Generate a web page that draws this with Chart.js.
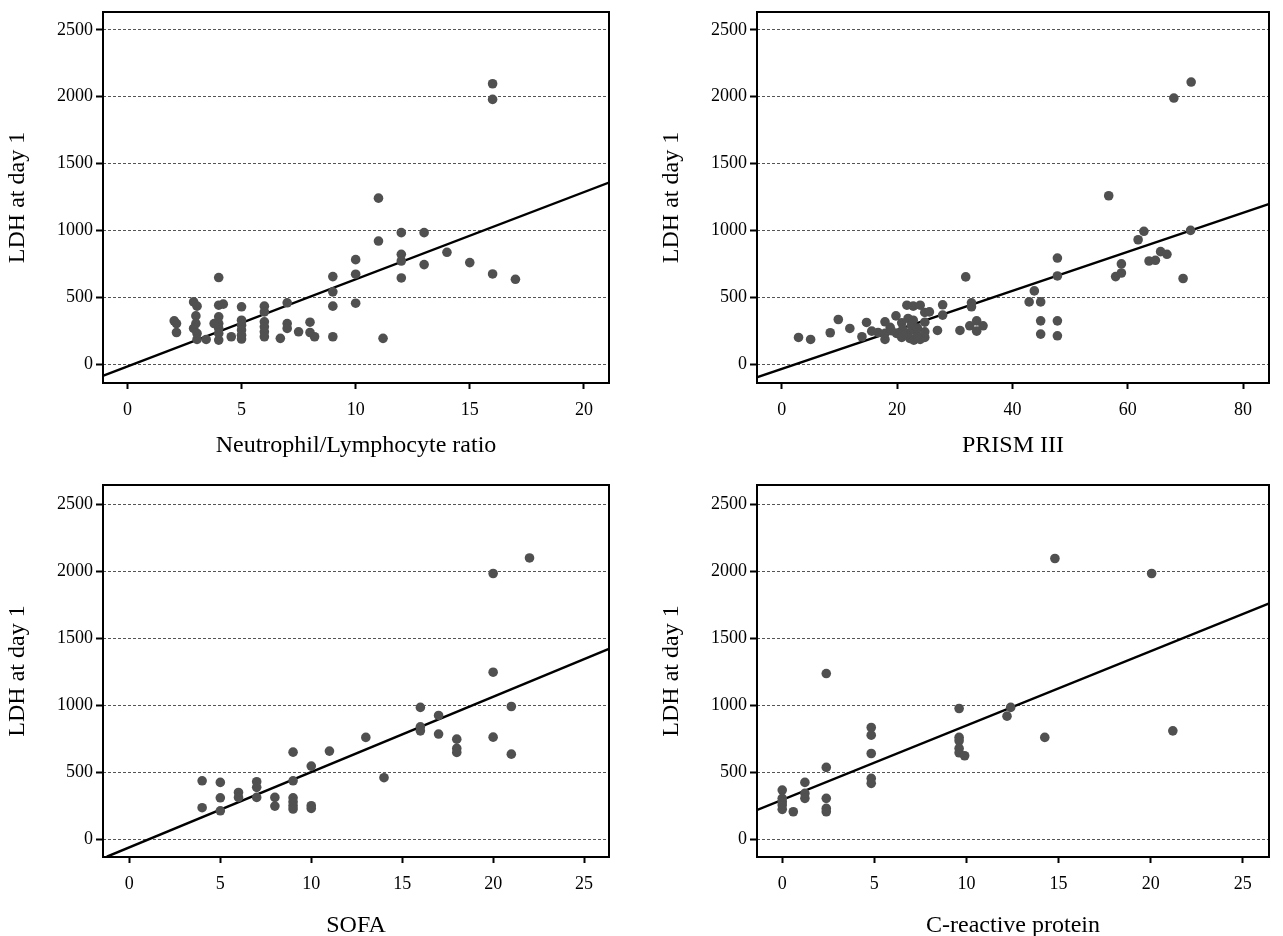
<!DOCTYPE html>
<html lang="en">
<head>
  <meta charset="utf-8"/>
  <title>LDH at day 1 correlations</title>

  <script src="https://cdn.jsdelivr.net/npm/chart.js"></script>

  <style>
    body { margin: 0; background: #fff; }
    #wrap { position: relative; width: 1283px; height: 936px; }
    canvas { position: absolute; }
  </style>
</head>
<body>
<div id="wrap">
  <canvas id="c1" width="654" height="468" style="left:0;top:0"></canvas>
  <canvas id="c2" width="629" height="468" style="left:654px;top:0"></canvas>
  <canvas id="c3" width="654" height="468" style="left:0;top:468px"></canvas>
  <canvas id="c4" width="629" height="468" style="left:654px;top:468px"></canvas>
</div>

<script>
// ── DATA ─────────────────────────────────────────────
const yTicks = [0, 500, 1000, 1500, 2000, 2500];
const yLabel = 'LDH at day 1';

// Neutrophil/Lymphocyte ratio
const nlrTicks = [0, 5, 10, 15, 20];
const nlrX = [16, 16, 11, 12, 13, 11, 12, 12, 14, 10, 13, 15, 10, 16, 17, 12, 9, 4, 9, 9,
  10, 9, 11.2, 7, 8, 7.5, 8, 8.2, 7, 7, 6.7, 6, 6, 6, 6, 6, 6, 5, 5, 5,
  5, 5, 5, 4.55, 4, 4.2, 4, 4, 4, 4, 4, 3.8, 2.9, 3.05, 3, 3, 2.9, 3.05, 3.05, 3.45,
  2.05, 2.15, 2.15];
const nlrY = [2097, 1980, 1241, 983, 983, 920, 821, 771, 836, 781, 744, 759, 672, 674, 634, 644, 654, 647, 540, 433,
  455, 204, 192, 458, 313, 241, 236, 204, 303, 266, 192, 433, 390, 316, 278, 241, 204, 428, 328, 291,
  254, 216, 187, 204, 440, 448, 353, 303, 266, 229, 179, 303, 465, 433, 360, 303, 266, 229, 184, 184,
  323, 303, 236];
const nlrFitX = [-1.05, 21.1];
const nlrFitY = [-87, 1358];

// PRISM III
const prismTicks = [0, 20, 40, 60, 80];
const prismX = [71, 68, 56.7, 62.8, 70.9, 61.8, 65.7, 66.8, 63.7, 64.8, 47.8, 47.8, 58.9, 57.9, 58.9, 69.6, 31.9, 43.8, 42.9, 44.9,
  44.9, 47.8, 44.9, 47.8, 32.9, 32.9, 27.9, 27.9, 27, 30.9, 32.6, 33.8, 34.9, 33.8, 21.7, 22.8, 24, 24.8, 24.8, 24.8,
  24.8, 19.8, 21.9, 22.8, 20.8, 17.9, 18.8, 16.7, 17.9, 17.9, 15.6, 14.7, 13.9, 11.8, 9.8, 8.4, 5, 2.9, 19.9, 20.8,
  21.7, 22.2, 22.9, 22.9, 24, 23.5, 21, 19, 22.5, 23.5, 21, 25.6];
const prismY = [2110, 1990, 1259, 993, 1000, 930, 841, 821, 771, 776, 793, 659, 749, 654, 681, 640, 652, 547, 465, 465,
  323, 323, 224, 211, 458, 428, 443, 366, 251, 251, 286, 323, 286, 246, 440, 433, 440, 386, 313, 241,
  199, 360, 341, 328, 308, 316, 274, 236, 229, 184, 246, 311, 204, 266, 333, 234, 184, 199, 229, 199,
  229, 192, 254, 179, 184, 210, 260, 250, 290, 270, 215, 390];
const prismFitX = [-4.33, 84.6];
const prismFitY = [-99, 1199];

// SOFA
const sofaTicks = [0, 5, 10, 15, 20, 25];
const sofaX = [22, 20, 20, 21, 16, 17, 16, 16, 17, 18, 18, 18, 20, 21, 13, 11, 9, 10, 14, 9,
  9, 9, 9, 9, 10, 10, 8, 8, 7, 7, 7, 6, 6, 5, 5, 5, 4, 4];
const sofaY = [2099, 1983, 1246, 990, 983, 923, 838, 808, 784, 746, 677, 647, 761, 634, 759, 657, 649, 545, 458, 435,
  308, 278, 249, 224, 249, 229, 311, 246, 428, 386, 311, 348, 311, 423, 308, 211, 435, 234];
const sofaFitX = [-1.24, 26.33];
const sofaFitY = [-132, 1418];

// C-reactive protein
const crpTicks = [0, 5, 10, 15, 20, 25];
const crpX = [14.8, 20.05, 2.39, 9.6, 12.4, 12.2, 14.25, 21.2, 9.6, 9.6, 9.6, 9.6, 9.9, 4.83, 4.83, 4.83, 4.83, 4.83, 2.39, 2.39,
  2.39, 2.39, 1.23, 1.23, 1.23, 0, 0, 0, 0, 0, 0.6];
const crpY = [2095, 1983, 1236, 975, 983, 918, 759, 808, 759, 734, 677, 644, 622, 833, 776, 639, 453, 416, 535, 304,
  229, 204, 423, 341, 304, 366, 304, 278, 254, 222, 204];
const crpFitX = [-1.39, 26.4];
const crpFitY = [216, 1759];
// ─────────────────────────────────────────────────────

Chart.defaults.font.family = "'Liberation Serif', 'Times New Roman', serif";
Chart.defaults.color = '#000';
Chart.defaults.animation = false;

// draws the black box around the plot area
const framePlugin = {
  id: 'frame',
  afterDraw(chart) {
    const a = chart.chartArea, ctx = chart.ctx;
    ctx.save();
    ctx.strokeStyle = '#000';
    ctx.lineWidth = 2;
    ctx.strokeRect(a.left, a.top, a.right - a.left, a.bottom - a.top);
    ctx.restore();
  }
};

function pts(xs, ys) {
  return xs.map((x, i) => ({ x, y: ys[i] }));
}

const titleFont = { size: 24, lineHeight: 1 };

function makePanel(id, p) {
  new Chart(document.getElementById(id), {
    type: 'scatter',
    data: {
      datasets: [
        {
          data: pts(p.xs, p.ys),
          pointRadius: 4.8,
          backgroundColor: '#505050',
          borderWidth: 0
        },
        {
          type: 'line',
          data: pts(p.fitX, p.fitY),
          borderColor: '#000',
          borderWidth: 2.4,
          pointRadius: 0,
          fill: false
        }
      ]
    },
    options: {
      responsive: false,
      events: [],
      layout: { padding: { left: 0, top: p.padTop, right: p.padRight, bottom: 0 } },
      plugins: { legend: { display: false }, tooltip: { enabled: false } },
      scales: {
        x: {
          type: 'linear',
          min: p.xMin, max: p.xMax,
          afterBuildTicks: s => { s.ticks = p.ticks.map(v => ({ value: v })); },
          afterFit: s => { s.height = p.xAxisH; s.paddingLeft = 0; s.paddingRight = 0; },
          grid: { drawOnChartArea: false, drawTicks: true, tickLength: 6, tickWidth: 2, tickColor: '#000', tickBorderDash: [] },
          border: { display: false },
          ticks: { font: { size: 18 }, padding: 10, maxRotation: 0, callback: v => String(v) },
          title: { display: true, text: p.title, font: titleFont, padding: { top: 0, bottom: p.titlePad } }
        },
        y: {
          type: 'linear',
          min: p.yMin, max: p.yMax,
          afterBuildTicks: s => { s.ticks = yTicks.map(v => ({ value: v })); },
          afterFit: s => { s.width = 103; s.paddingTop = 0; s.paddingBottom = 0; },
          grid: { color: '#555', lineWidth: 1, drawTicks: true, tickLength: 7, tickWidth: 2, tickColor: '#000', tickBorderDash: [] },
          border: { display: false, dash: [3, 2] },
          ticks: { font: { size: 18 }, padding: 3, callback: v => String(v) },
          title: { display: true, text: yLabel, font: titleFont, padding: { top: 6, bottom: 0 } }
        }
      }
    },
    plugins: [framePlugin]
  });
}

makePanel('c1', { xs: nlrX, ys: nlrY, fitX: nlrFitX, fitY: nlrFitY, ticks: nlrTicks,
  title: 'Neutrophil/Lymphocyte ratio', xMin: -1.07, xMax: 21.1, yMin: -142, yMax: 2634,
  padTop: 12, padRight: 45, xAxisH: 85, titlePad: 10 });
makePanel('c2', { xs: prismX, ys: prismY, fitX: prismFitX, fitY: prismFitY, ticks: prismTicks,
  title: 'PRISM III', xMin: -4.3, xMax: 84.5, yMin: -142, yMax: 2634,
  padTop: 12, padRight: 14, xAxisH: 85, titlePad: 10 });
makePanel('c3', { xs: sofaX, ys: sofaY, fitX: sofaFitX, fitY: sofaFitY, ticks: sofaTicks,
  title: 'SOFA', xMin: -1.45, xMax: 26.37, yMin: -134, yMax: 2644,
  padTop: 17, padRight: 45, xAxisH: 79, titlePad: -2 });
makePanel('c4', { xs: crpX, ys: crpY, fitX: crpFitX, fitY: crpFitY, ticks: crpTicks,
  title: 'C-reactive protein', xMin: -1.37, xMax: 26.42, yMin: -134, yMax: 2644,
  padTop: 17, padRight: 14, xAxisH: 79, titlePad: -2 });
</script>
</body>
</html>
